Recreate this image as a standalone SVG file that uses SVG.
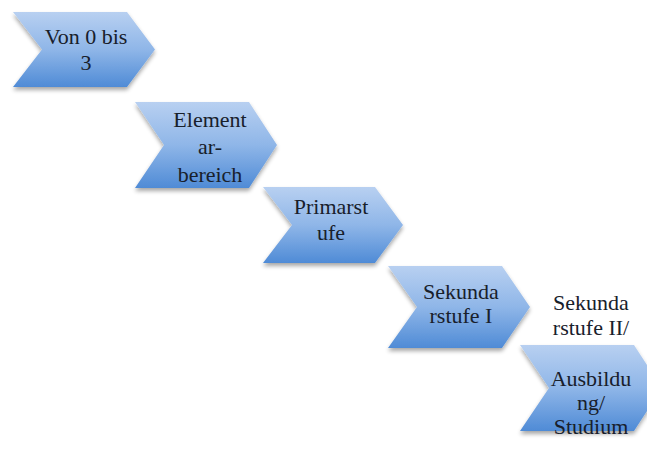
<svg xmlns="http://www.w3.org/2000/svg" width="647" height="462" viewBox="0 0 647 462">
<defs>
<linearGradient id="g" x1="0" y1="0" x2="0" y2="1">
<stop offset="0" stop-color="#b8d0f1"/>
<stop offset="0.5" stop-color="#8fb6e8"/>
<stop offset="1" stop-color="#4f8bd6"/>
</linearGradient>
<filter id="sh" x="-10%" y="-10%" width="130%" height="140%">
<feGaussianBlur in="SourceAlpha" stdDeviation="2"/>
<feOffset dx="0" dy="3" result="b"/>
<feComponentTransfer><feFuncA type="linear" slope="0.35"/></feComponentTransfer>
<feMerge><feMergeNode/><feMergeNode in="SourceGraphic"/></feMerge>
</filter>
</defs>
<style>
.c{fill:url(#g);filter:url(#sh)}
.t{font-family:"Liberation Serif",serif;font-size:22px;fill:#18202b;text-anchor:middle}
</style>
<rect width="647" height="462" fill="#ffffff"/>
<g id="connectors"/>
<g id="n1">
<path class="c" d="M13,12 H127 L155,49.5 L127,87 H13 L42,49.5 Z"/>
<text class="t" x="86" y="44">Von 0 bis</text>
<text class="t" x="86" y="70">3</text>
</g>
<g id="n2">
<path class="c" d="M135,102 H249 L277,145 L249,188 H135 L164,145 Z"/>
<text class="t" x="210" y="127">Element</text>
<text class="t" x="210" y="154">ar-</text>
<text class="t" x="210" y="182">bereich</text>
</g>
<g id="n3">
<path class="c" d="M263,187 H375 L403,225 L375,263 H263 L292,225 Z"/>
<text class="t" x="331" y="214">Primarst</text>
<text class="t" x="331" y="240">ufe</text>
</g>
<g id="n4">
<path class="c" d="M388,266 H502 L530,307 L502,348 H388 L417,307 Z"/>
<text class="t" x="461" y="299">Sekunda</text>
<text class="t" x="461" y="323">rstufe I</text>
</g>
<g id="n5">
<path class="c" d="M520,345 H634 L662,388 L634,431 H520 L549,388 Z"/>
<text class="t" x="591" y="310">Sekunda</text>
<text class="t" x="591" y="335">rstufe II/</text>
<text class="t" x="591" y="386">Ausbildu</text>
<text class="t" x="591" y="410">ng/</text>
<text class="t" x="591" y="434">Studium</text>
</g>
</svg>
